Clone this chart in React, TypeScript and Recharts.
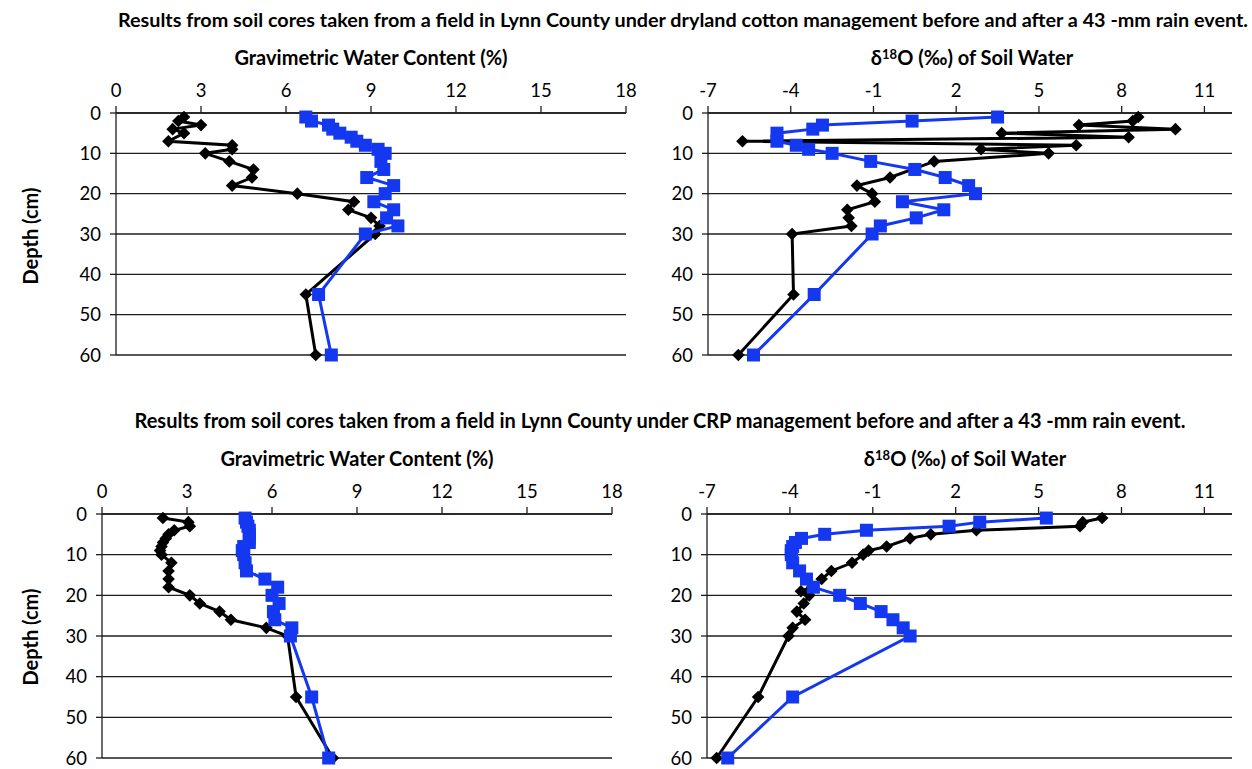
import React from 'react';
import { ScatterChart, Scatter, XAxis, YAxis, CartesianGrid } from 'recharts';

const FONT = 'Lato, "Open Sans", sans-serif';
const INK = '#000000';
const BLUE = '#1438f0';
const GRID = '#1e1e1e';

const depthTicks = [0, 10, 20, 30, 40, 50, 60];
const gwcTicks = [0, 3, 6, 9, 12, 15, 18];
const isoTicks = [-7, -4, -1, 2, 5, 8, 11];

// Dryland cotton field, gravimetric water content (%)
const cottonGwcBeforeDepth = [1, 2, 3, 4, 5, 7, 8, 9, 10, 12, 14, 16, 18, 20, 22, 24, 26, 28, 30, 45, 60];
const cottonGwcBefore = [2.4, 2.2, 3.0, 2.0, 2.4, 1.85, 4.1, 4.1, 3.15, 4.0, 4.85, 4.8, 4.1, 6.4, 8.4, 8.2, 9.0, 9.3, 9.15, 6.7, 7.05];
const cottonGwcAfterDepth = [1, 2, 3, 4, 5, 6, 7, 8, 9, 10, 12, 14, 16, 18, 20, 22, 24, 26, 28, 30, 45, 60];
const cottonGwcAfter = [6.7, 6.9, 7.5, 7.65, 7.9, 8.3, 8.5, 8.8, 9.25, 9.5, 9.35, 9.45, 8.85, 9.8, 9.5, 9.1, 9.8, 9.55, 9.95, 8.8, 7.15, 7.6];

// Dryland cotton field, d18O of soil water (per mil)
const cottonIsoBeforeDepth = [1, 2, 3, 4, 5, 6, 7, 8, 9, 10, 12, 16, 18, 20, 22, 24, 26, 28, 30, 45, 60];
const cottonIsoBefore = [8.6, 8.4, 6.45, 9.95, 3.65, 8.25, -5.75, 6.35, 2.9, 5.35, 1.2, -0.4, -1.6, -1.05, -0.95, -1.95, -1.9, -1.8, -3.95, -3.9, -5.9];
const cottonIsoAfterDepth = [1, 2, 3, 4, 5, 7, 8, 9, 10, 12, 14, 16, 18, 20, 22, 24, 26, 28, 30, 45, 60];
const cottonIsoAfter = [3.5, 0.4, -2.85, -3.2, -4.5, -4.5, -3.8, -3.35, -2.5, -1.1, 0.5, 1.6, 2.45, 2.7, 0.05, 1.55, 0.55, -0.75, -1.05, -3.15, -5.35];

// CRP field, gravimetric water content (%)
const crpGwcBeforeDepth = [1, 2, 3, 4, 5, 6, 7, 8, 9, 10, 12, 14, 16, 18, 20, 22, 24, 26, 28, 30, 45, 60];
const crpGwcBefore = [2.15, 3.05, 3.1, 2.55, 2.35, 2.25, 2.15, 2.1, 2.05, 2.1, 2.45, 2.35, 2.35, 2.35, 3.1, 3.45, 4.15, 4.55, 5.8, 6.55, 6.85, 8.15];
const crpGwcAfterDepth = [1, 2, 3, 4, 5, 6, 7, 8, 9, 10, 12, 14, 16, 18, 20, 22, 24, 26, 28, 30, 45, 60];
const crpGwcAfter = [5.05, 5.1, 5.15, 5.2, 5.2, 5.2, 5.2, 5.0, 4.95, 5.0, 5.05, 5.1, 5.75, 6.2, 6.0, 6.25, 6.05, 6.1, 6.7, 6.65, 7.4, 8.0];

// CRP field, d18O of soil water (per mil)
const crpIsoBeforeDepth = [1, 2, 3, 4, 5, 6, 8, 9, 10, 12, 14, 16, 18, 19, 20, 22, 24, 26, 28, 30, 45, 60];
const crpIsoBefore = [7.3, 6.6, 6.5, 2.75, 1.1, 0.35, -0.5, -1.15, -1.35, -1.75, -2.5, -2.85, -3.2, -3.6, -3.3, -3.5, -3.75, -3.45, -3.9, -4.05, -5.15, -6.65];
const crpIsoAfterDepth = [1, 2, 3, 4, 5, 6, 7, 8, 9, 10, 12, 14, 16, 18, 20, 22, 24, 26, 28, 30, 45, 60];
const crpIsoAfter = [5.28, 2.87, 1.76, -1.23, -2.74, -3.58, -3.8, -3.9, -3.95, -3.95, -3.9, -3.65, -3.4, -3.15, -2.2, -1.45, -0.7, -0.27, 0.1, 0.35, -3.9, -6.25];

type Pt = { depth: number; value: number };
const zip = (depths: number[], values: number[]): Pt[] =>
  depths.map((depth, i) => ({ depth, value: values[i] }));

const Diamond = (props: any) => {
  const { cx, cy } = props;
  const r = 6.3;
  return <polygon points={`${cx},${cy - r} ${cx + r},${cy} ${cx},${cy + r} ${cx - r},${cy}`} fill={INK} />;
};

const Square = (props: any) => {
  const { cx, cy } = props;
  return <rect x={cx - 6.5} y={cy - 6.5} width={13} height={13} fill={BLUE} />;
};

const tickStyle = { fill: INK, fontSize: 18.5, fontFamily: FONT };

interface PanelProps {
  left: number;
  top: number;
  plotW: number;
  plotH: number;
  domain: [number, number];
  ticks: number[];
  before: Pt[];
  after: Pt[];
}

const Y_W = 60;
const X_H = 40;
const PAD_R = 12;
const PAD_B = 12;

const DepthPanel: React.FC<PanelProps> = ({ left, top, plotW, plotH, domain, ticks, before, after }) => (
  <div style={{ position: 'absolute', left: left - Y_W, top: top - X_H }}>
    <ScatterChart
      width={plotW + Y_W + PAD_R}
      height={plotH + X_H + PAD_B}
      margin={{ top: 0, right: PAD_R, bottom: PAD_B, left: 0 }}
    >
      <CartesianGrid vertical={false} stroke={GRID} strokeWidth={1.3} />
      <XAxis
        type="number"
        dataKey="value"
        orientation="top"
        domain={domain}
        ticks={ticks}
        interval={0}
        height={X_H}
        tick={tickStyle}
        tickSize={7}
        tickMargin={9}
        axisLine={{ stroke: GRID, strokeWidth: 1.3 }}
        tickLine={{ stroke: GRID, strokeWidth: 1.3 }}
      />
      <YAxis
        type="number"
        dataKey="depth"
        domain={[0, 60]}
        ticks={depthTicks}
        interval={0}
        reversed
        width={Y_W}
        tick={tickStyle}
        tickSize={6}
        tickMargin={9}
        axisLine={{ stroke: GRID, strokeWidth: 1.3 }}
        tickLine={{ stroke: GRID, strokeWidth: 1.3 }}
      />
      <Scatter
        data={before}
        fill={INK}
        line={{ stroke: INK, strokeWidth: 3 }}
        lineType="joint"
        shape={Diamond}
        isAnimationActive={false}
      />
      <Scatter
        data={after}
        fill={BLUE}
        line={{ stroke: BLUE, strokeWidth: 3 }}
        lineType="joint"
        shape={Square}
        isAnimationActive={false}
      />
    </ScatterChart>
  </div>
);

const Label: React.FC<{ x: number; y: number; size: number; rotate?: boolean; children: React.ReactNode }> = ({
  x,
  y,
  size,
  rotate,
  children,
}) => (
  <div
    style={{
      position: 'absolute',
      left: x,
      top: y,
      transform: `translate(-50%, -50%)${rotate ? ' rotate(-90deg)' : ''}`,
      whiteSpace: 'nowrap',
      fontFamily: FONT,
      fontWeight: 700,
      fontSize: size,
      color: INK,
      lineHeight: 1,
    }}
  >
    {children}
  </div>
);

const Iso = () => (
  <>
    δ<sup style={{ fontSize: '0.65em', verticalAlign: '0.45em', lineHeight: 0 }}>18</sup>O (‰) of Soil Water
  </>
);

export default function App() {
  return (
    <div style={{ position: 'absolute', left: 0, top: 0, width: 1252, height: 769, background: '#fff', overflow: 'hidden' }}>
      <Label x={683} y={20} size={19.8}>
        Results from soil cores taken from a field in Lynn County under dryland cotton management before and after a 43 -mm rain event.
      </Label>
      <Label x={371} y={57} size={20}>Gravimetric Water Content (%)</Label>
      <Label x={972} y={57} size={20}><Iso /></Label>
      <Label x={30} y={236} size={20} rotate>Depth (cm)</Label>

      <DepthPanel left={116} top={113} plotW={510} plotH={242} domain={[0, 18]} ticks={gwcTicks}
        before={zip(cottonGwcBeforeDepth, cottonGwcBefore)} after={zip(cottonGwcAfterDepth, cottonGwcAfter)} />
      <DepthPanel left={708} top={113} plotW={524} plotH={242} domain={[-7, 12]} ticks={isoTicks}
        before={zip(cottonIsoBeforeDepth, cottonIsoBefore)} after={zip(cottonIsoAfterDepth, cottonIsoAfter)} />

      <Label x={660} y={420} size={20}>
        Results from soil cores taken from a field in Lynn County under CRP management before and after a 43 -mm rain event.
      </Label>
      <Label x={357} y={458} size={20}>Gravimetric Water Content (%)</Label>
      <Label x={965} y={458} size={20}><Iso /></Label>
      <Label x={30} y={637} size={20} rotate>Depth (cm)</Label>

      <DepthPanel left={102} top={513.5} plotW={510} plotH={244} domain={[0, 18]} ticks={gwcTicks}
        before={zip(crpGwcBeforeDepth, crpGwcBefore)} after={zip(crpGwcAfterDepth, crpGwcAfter)} />
      <DepthPanel left={707} top={514} plotW={525} plotH={244} domain={[-7, 12]} ticks={isoTicks}
        before={zip(crpIsoBeforeDepth, crpIsoBefore)} after={zip(crpIsoAfterDepth, crpIsoAfter)} />
    </div>
  );
}
